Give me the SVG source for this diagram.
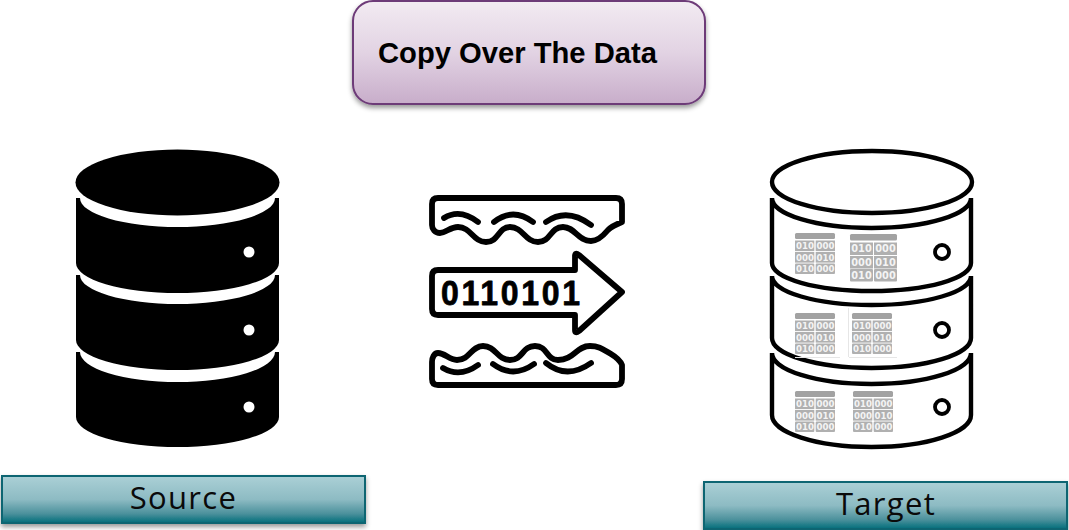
<svg xmlns="http://www.w3.org/2000/svg" width="1069" height="530" viewBox="0 0 1069 530">
<style>
.tb{fill:#f4f4f4;font:bold 8.6px "DejaVu Sans",sans-serif;text-anchor:middle}
.tl{fill:#f4f4f4;font:bold 9.8px "DejaVu Sans",sans-serif;text-anchor:middle}
.g{fill:#b0b0b0}
.h{fill:#a2a2a2}
.ic{fill:none;stroke:#000;stroke-width:5.800;stroke-linecap:round;stroke-linejoin:round}
.t{fill:#fff;stroke:#000;stroke-width:4.400}
.lab{font:31px "Open Sans",sans-serif;fill:#0a0a0a;text-anchor:middle;letter-spacing:1.3px}
.bar{fill:url(#teal);stroke:#0a6572;stroke-width:2;filter:url(#sh)}
</style>
<defs>
<linearGradient id="pur" x1="0" y1="0" x2="0" y2="1"><stop offset="0" stop-color="#f2ebf2"/><stop offset=".5" stop-color="#e2d3e3"/><stop offset="1" stop-color="#c8adca"/></linearGradient>
<linearGradient id="teal" x1="0" y1="0" x2="0" y2="1"><stop offset="0" stop-color="#abd0d6"/><stop offset=".5" stop-color="#8dbbc3"/><stop offset=".8" stop-color="#4c919c"/><stop offset="1" stop-color="#006d7a"/></linearGradient>
<filter id="sh" x="-5%" y="-10%" width="110%" height="130%"><feDropShadow dx="0" dy="3" stdDeviation="2.5" flood-color="#000" flood-opacity=".4"/></filter>
<g id="cells">
<rect class="h" x="0" y="0" width="40" height="6" rx="1.5"/>
<rect class="g" x="0" y="7.500" width="19.300" height="10.600"/><rect class="g" x="20.700" y="7.500" width="19.300" height="10.600"/>
<rect class="g" x="0" y="19" width="19.300" height="10.600"/><rect class="g" x="20.700" y="19" width="19.300" height="10.600"/>
<rect class="g" x="0" y="30.500" width="19.300" height="10.600" rx="1"/><rect class="g" x="20.700" y="30.500" width="19.300" height="10.600" rx="1"/>
</g>
<g id="cellsL">
<rect class="h" x="0" y="0" width="47" height="6.500" rx="1.500"/>
<rect class="g" x="0" y="8.500" width="23" height="12.500"/><rect class="g" x="24" y="8.500" width="23" height="12.500"/>
<rect class="g" x="0" y="22" width="23" height="12.500"/><rect class="g" x="24" y="22" width="23" height="12.500"/>
<rect class="g" x="0" y="35" width="23" height="12.500" rx="1"/><rect class="g" x="24" y="35" width="23" height="12.500" rx="1"/>
</g>
</defs>
<rect width="1069" height="530" fill="#fff"/>

<g id="copy-step">
<rect x="353" y="1" width="352" height="103" rx="20" fill="url(#pur)" stroke="#6d3a78" stroke-width="2" filter="url(#sh)"/>
<text x="378" y="63" font-family="'Liberation Sans',Arial,sans-serif" font-weight="bold" font-size="29.200" fill="#000">Copy Over The Data</text>
</g>

<g id="source-db" fill="#000">
<ellipse cx="177.500" cy="182.500" rx="102" ry="33"/>
<path d="M76 198H80A97.500 29 0 0 0 275 198H279V263A101.500 30 0 0 1 76 263Z"/>
<path d="M76 275H80A97.500 29 0 0 0 275 275H279V340A101.500 30 0 0 1 76 340Z"/>
<path d="M76 352H80A97.500 30 0 0 0 275 352H279V417A101.500 30 0 0 1 76 417Z"/>
<circle cx="249" cy="252" r="5.500" fill="#fff"/><circle cx="249" cy="330" r="5.500" fill="#fff"/><circle cx="249" cy="407" r="5.500" fill="#fff"/>
</g>

<g id="transfer">
<path class="ic" d="M438 198H616Q622 198 622 204V222C617 224 612 226 608 230C603 236 598 241 591 241C578 241 575 227 563 227C550 227 551 242 538 242C525 242 523 227 510 227C498 227 499 242 486 242C473 242 471 227 458 227C450 227 446 233 440 233C435 233 432 229 432 225V204Q432 198 438 198Z"/>
<path class="ic" d="M444 218Q460 208 478 222M494 222Q513 207 533 222M546 222Q567 207 591 225"/>
<path class="ic" d="M438 270H575V256Q575 252 579 255L622 292L579 331Q575 334 575 330V315H438Q432 315 432 309V276Q432 270 438 270Z"/>
<text transform="translate(441 305) scale(1 1.080)" font-family="'Liberation Sans',sans-serif" font-weight="bold" font-size="32" fill="#000" stroke="#000" stroke-width=".7" stroke-linejoin="round" textLength="139">0110101</text>
<path class="ic" d="M438 385H616Q622 385 622 379V365C620 360 616 357 611 354C604 350 600 346 590 346C576 346 574 360 558 360C546 360 548 346 535 346C522 346 523 360 510 360C497 360 496 346 483 346C471 346 470 360 457 360C449 360 445 353 438 353C434 353 432 358 432 362V379Q432 385 438 385Z"/>
<path class="ic" d="M443 368Q460 378 478 365M493 364Q513 379 534 364M546 363Q567 380 591 363"/>
</g>

<g id="target-db">
<path class="t" d="M772 198V263A99.500 28 0 0 0 971 263V198A99.500 30 0 0 1 772 198Z"/>
<path class="t" d="M772 276V338A99.500 30 0 0 0 971 338V276A99.500 29 0 0 1 772 276Z"/>
<path class="t" d="M772 353V415A99.500 32 0 0 0 971 415V353A99.500 31 0 0 1 772 353Z"/>
<ellipse class="t" cx="872" cy="182" rx="100" ry="31"/>
<circle cx="942" cy="252" r="7" fill="#fff" stroke="#000" stroke-width="3.800"/>
<circle cx="942" cy="330" r="7" fill="#fff" stroke="#000" stroke-width="3.800"/>
<circle cx="942" cy="407" r="7" fill="#fff" stroke="#000" stroke-width="3.800"/>
<path d="M848.500 308V357M795 357.500H840M849 357.500H897" stroke="#e6e6e6" fill="none"/>

<use href="#cells" x="795" y="233"/>
<text class="tb" y="249.300"><tspan x="805">010</tspan><tspan x="825.500">000</tspan></text>
<text class="tb" y="260.800"><tspan x="805">000</tspan><tspan x="825.500">010</tspan></text>
<text class="tb" y="272.300"><tspan x="805">010</tspan><tspan x="825.500">000</tspan></text>

<use href="#cellsL" x="850" y="234"/>
<text class="tl" y="252"><tspan x="861.500">010</tspan><tspan x="885.500">000</tspan></text>
<text class="tl" y="265.500"><tspan x="861.500">000</tspan><tspan x="885.500">010</tspan></text>
<text class="tl" y="278.500"><tspan x="861.500">010</tspan><tspan x="885.500">000</tspan></text>

<use href="#cells" x="795" y="313"/>
<text class="tb" y="329.300"><tspan x="805">010</tspan><tspan x="825.500">000</tspan></text>
<text class="tb" y="340.800"><tspan x="805">000</tspan><tspan x="825.500">010</tspan></text>
<text class="tb" y="352.300"><tspan x="805">010</tspan><tspan x="825.500">000</tspan></text>

<use href="#cells" x="852" y="313"/>
<text class="tb" y="329.300"><tspan x="862">010</tspan><tspan x="882.500">000</tspan></text>
<text class="tb" y="340.800"><tspan x="862">000</tspan><tspan x="882.500">010</tspan></text>
<text class="tb" y="352.300"><tspan x="862">010</tspan><tspan x="882.500">000</tspan></text>

<use href="#cells" x="795" y="391"/>
<text class="tb" y="407.300"><tspan x="805">010</tspan><tspan x="825.500">000</tspan></text>
<text class="tb" y="418.800"><tspan x="805">000</tspan><tspan x="825.500">010</tspan></text>
<text class="tb" y="430.300"><tspan x="805">010</tspan><tspan x="825.500">000</tspan></text>

<use href="#cells" x="853" y="391"/>
<text class="tb" y="407.300"><tspan x="863">010</tspan><tspan x="883.500">000</tspan></text>
<text class="tb" y="418.800"><tspan x="863">000</tspan><tspan x="883.500">010</tspan></text>
<text class="tb" y="430.300"><tspan x="863">010</tspan><tspan x="883.500">000</tspan></text>
</g>

<g id="source-label">
<rect class="bar" x="2" y="476" width="363" height="47"/>
<text class="lab" x="183.500" y="509">Source</text>
</g>
<g id="target-label">
<rect class="bar" x="704" y="482" width="363" height="47"/>
<text class="lab" x="886" y="515">Target</text>
</g>
<g id="connectors"/>
</svg>
